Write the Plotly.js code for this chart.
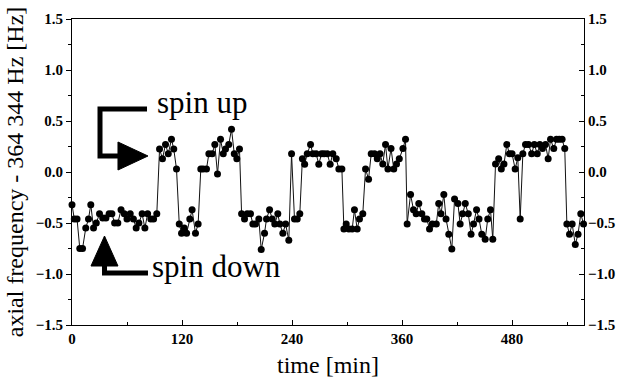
<!DOCTYPE html>
<html>
<head>
<meta charset="utf-8">
<script src="https://cdn.plot.ly/plotly-3.0.1.min.js"></script>
<style>html,body{margin:0;padding:0;background:#fff;}#chart{width:620px;height:387px;}</style>
</head>
<body>
<div id="chart"></div>
<script>
// time [min]
const timeMin = [
  0,2.5,5.5,8.5,11.5,15,18,20.5,23.5,26.5,30,33.5,37,40.5,43.5,46.5,50,53.5,57,60,63.5,67,70,73,76.5,79.5,82.5,86,89,92.5,
  95.5,98.7,102,105,108.5,111,114,
  117,119.5,122.4,125,128.5,131,134.7,137.6,
  140.5,143,146.7,149.3,152.9,155.8,158.7,162,165,167.5,171,174,177,179.8,182.7,
  185,188.2,191.1,194.7,197.3,200.2,203.8,206.4,210,212.2,215.5,218.4,221.2,224.5,226.7,230,233,236.5,
  239.5,242.7,245.7,248.5,
  251.3,253.8,256.6,260.2,262.7,266.3,269.2,272.2,275,278.5,281.6,284.5,288.2,291.1,294.4,
  296.6,299.1,302,305.6,308.1,311.1,313.6,317.2,
  320.2,323.5,326.4,330,333,336,339,342,344.6,348,351,354,357,361,363.8,
  365.6,369.3,372.5,375.4,378.3,381.6,384.5,387,390,393,397.4,400,402.5,405.6,408,411,414.3,417.3,421,423.4,426,429,432.3,435.3,438,441.3,444,447,450.7,453.5,456.5,459,
  462,465.4,468.3,471.2,474.3,477.2,480,483.4,486.3,
  488.9,
  491.8,494.7,498,501.4,504.3,507.5,510.3,513.2,516.5,519.4,522,525.5,528.5,531.5,534.6,537.5,
  539.8,542.7,545.6,549,552,555,558
];
// axial frequency - 364 344 Hz [Hz]
const freqHz = [
  -0.32,-0.46,-0.46,-0.75,-0.75,-0.55,-0.46,-0.32,-0.55,-0.50,-0.41,-0.45,-0.45,-0.41,-0.41,-0.50,-0.50,-0.37,-0.41,-0.46,-0.41,-0.46,-0.55,-0.50,-0.41,-0.55,-0.41,-0.46,-0.46,-0.41,
  0.225,0.13,0.27,0.18,0.32,0.225,0.03,
  -0.51,-0.60,-0.55,-0.60,-0.46,-0.37,-0.60,-0.51,
  0.03,0.03,0.03,0.18,0.18,0.27,-0.02,0.32,0.18,0.225,0.27,0.42,0.18,0.13,0.225,
  -0.41,-0.46,-0.41,-0.41,-0.51,-0.51,-0.46,-0.76,-0.60,-0.46,-0.37,-0.46,-0.51,-0.41,-0.51,-0.60,-0.51,-0.67,
  0.18,-0.46,-0.46,-0.41,
  0.13,0.075,0.18,0.27,0.18,0.18,0.075,0.18,0.18,0.18,0.075,0.18,0.13,0.03,0.03,
  -0.56,-0.51,-0.56,-0.56,-0.37,-0.56,-0.46,-0.41,
  0.03,-0.07,0.18,0.18,0.13,0.18,0.078,0.27,0.03,0.23,0.03,0.078,0.13,0.23,0.32,
  -0.51,-0.22,-0.37,-0.41,-0.31,-0.41,-0.46,-0.46,-0.56,-0.51,-0.51,-0.31,-0.41,-0.22,-0.46,-0.61,-0.755,-0.265,-0.31,-0.51,-0.41,-0.31,-0.41,-0.61,-0.51,-0.37,-0.46,-0.61,-0.66,-0.46,-0.37,-0.66,
  0.078,0.13,0.03,0.078,0.27,0.18,0.18,0.03,0.14,
  -0.46,
  0.18,0.27,0.27,0.18,0.27,0.18,0.27,0.23,0.27,0.13,0.32,0.23,0.32,0.32,0.32,0.23,
  -0.51,-0.61,-0.51,-0.71,-0.61,-0.41,-0.51
];
const xTickVals = [0,120,240,360,480];
const yTickVals = [-1.5,-1.0,-0.5,0.0,0.5,1.0,1.5];
const labelUp = "spin up";
const labelDown = "spin down";
const xTitle = "time [min]";
const yTitle = "axial frequency - 364 344 Hz [Hz]";

// plot area in pixels
const L = 72, R = 36, T = 19, B = 62, W = 620, H = 387;
const pw = W - L - R, ph = H - T - B;
function px(x){ return ((x - L) / pw).toFixed(4); }
function py(y){ return ((H - B - y) / ph).toFixed(4); }
function path(pts, close){
  return pts.map((p,i)=> (i? 'L':'M') + px(p[0]) + ',' + py(p[1])).join(' ') + (close ? ' Z' : '');
}

const serif = "'Liberation Serif', 'Times New Roman', Times, serif";
const tickFont = {family: serif, size: 15, color: '#000', weight: 'bold'};

const traces = [
  {
    x: timeMin, y: freqHz, type: 'scatter', mode: 'lines+markers',
    line: {color: '#111', width: 1},
    marker: {color: '#000', size: 7},
    cliponaxis: false, hoverinfo: 'skip', showlegend: false
  },
  { x: [], y: [], yaxis: 'y2', type: 'scatter', mode: 'markers', showlegend: false, hoverinfo: 'skip' }
];

const yCommon = {
  range: [-1.5, 1.5], tickvals: yTickVals, tickformat: '.1f',
  showline: true, linecolor: '#000', linewidth: 1,
  showgrid: false, zeroline: false, tickfont: tickFont,
  tickcolor: '#000', ticklen: 5, tickwidth: 1
};

const layout = {
  width: W, height: H,
  margin: {l: L, r: R, t: T, b: B, pad: 0},
  paper_bgcolor: '#fff', plot_bgcolor: '#fff',
  showlegend: false,
  font: {family: serif, color: '#000'},
  xaxis: {
    range: [0, 558.5], tickvals: xTickVals,
    ticks: 'inside', ticklen: 5, tickcolor: '#000',
    minor: {dtick: 60, tick0: 0, ticks: 'inside', ticklen: 3, tickcolor: '#000'},
    showline: true, linecolor: '#000', linewidth: 1, mirror: true,
    showgrid: false, zeroline: false, tickfont: tickFont,
    title: {text: xTitle, font: {family: serif, size: 24, color: '#000'}, standoff: 10}
  },
  yaxis: Object.assign({}, yCommon, {
    ticks: 'outside',
    minor: {dtick: 0.25, tick0: 0, ticks: 'outside', ticklen: 3, tickcolor: '#000'},
    title: {text: yTitle, font: {family: serif, size: 24, color: '#000'}, standoff: 5}
  }),
  yaxis2: Object.assign({}, yCommon, {
    overlaying: 'y', side: 'right', anchor: 'x',
    ticks: 'inside',
    minor: {dtick: 0.25, tick0: 0, ticks: 'inside', ticklen: 3, tickcolor: '#000'}
  }),
  shapes: [
    {type: 'path', xref: 'paper', yref: 'paper',
     path: path([[147,109],[100,109],[100,156],[119,156]], false),
     line: {color: '#000', width: 5}, fillcolor: 'rgba(0,0,0,0)'},
    {type: 'path', xref: 'paper', yref: 'paper',
     path: path([[118,142],[148,156],[118,170]], true),
     line: {color: '#000', width: 1}, fillcolor: '#000'},
    {type: 'path', xref: 'paper', yref: 'paper',
     path: path([[104.5,264],[104.5,273],[148,273]], false),
     line: {color: '#000', width: 5}, fillcolor: 'rgba(0,0,0,0)'},
    {type: 'path', xref: 'paper', yref: 'paper',
     path: path([[91,266],[104.5,236],[118,266]], true),
     line: {color: '#000', width: 1}, fillcolor: '#000'}
  ],
  annotations: [
    {text: labelUp, xref: 'paper', yref: 'paper', x: +px(155), y: +py(103),
     xanchor: 'left', yanchor: 'middle', showarrow: false,
     font: {family: serif, size: 31, color: '#000'}},
    {text: labelDown, xref: 'paper', yref: 'paper', x: +px(150), y: +py(266),
     xanchor: 'left', yanchor: 'middle', showarrow: false,
     font: {family: serif, size: 31, color: '#000'}}
  ]
};

Plotly.newPlot('chart', traces, layout, {staticPlot: true, displayModeBar: false});
</script>
</body>
</html>
